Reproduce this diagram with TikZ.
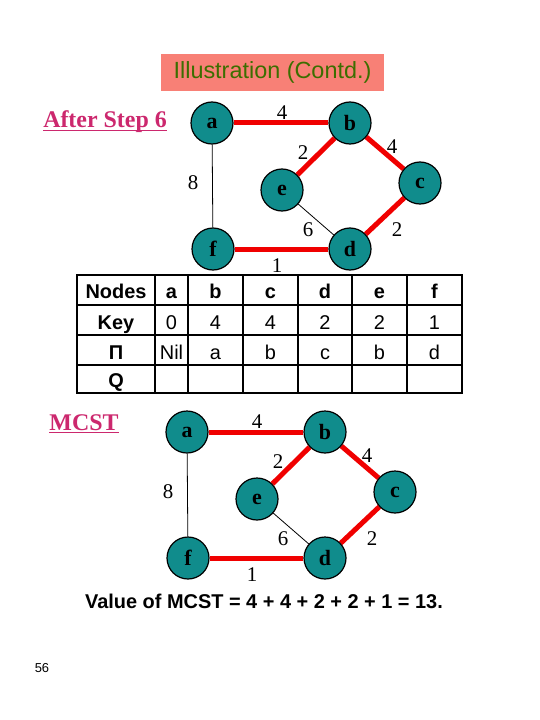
\documentclass[tikz,border=0pt]{standalone}
\usepackage{fontspec}
\setmainfont{Liberation Serif}
\setsansfont{Liberation Sans}
\usetikzlibrary{backgrounds}
\definecolor{nodeteal}{RGB}{16,140,140}
\definecolor{titlebg}{RGB}{248,128,118}
\definecolor{titlegreen}{RGB}{60,110,0}
\definecolor{steppink}{RGB}{204,40,110}
\definecolor{edgered}{RGB}{240,0,0}
\tikzset{
  vertex/.style={circle, draw=black, line width=1.2bp, fill=nodeteal,
    minimum size=42bp, inner sep=0pt, font=\fontsize{22}{22}\selectfont\bfseries},
  tree edge/.style={edgered, line width=5bp},
  plain edge/.style={black, line width=0.8bp},
  weight/.style={font=\fontsize{21}{21}\selectfont, inner sep=0pt},
  cell/.style={font=\sffamily\fontsize{20}{20}\selectfont, inner sep=0pt, anchor=base},
  head/.style={cell, font=\sffamily\bfseries\fontsize{20}{20}\selectfont},
  steplabel/.style={steppink, font=\bfseries\fontsize{24}{24}\selectfont, inner sep=0pt, anchor=base},
}
\begin{document}
\begin{tikzpicture}[x=1bp, y=-1bp]
  \useasboundingbox (0,0) rectangle (540,720);
  % Title
  \node[fill=titlebg, minimum width=223bp, minimum height=37bp, inner sep=0pt,
    text=titlegreen, font=\sffamily\fontsize{23.5}{23.5}\selectfont] (title) at (272.5,72.5) {Illustration (Contd.)};
  % Step labels
  \node[steplabel] (step6) at (105,128) {After Step 6};
  \draw[steppink, line width=1.5bp] ([yshift=-2.5bp]step6.base west) -- ([yshift=-2.5bp]step6.base east);
  \node[steplabel] (mcst) at (84,430) {MCST};
  \draw[steppink, line width=1.5bp] ([yshift=-2.5bp]mcst.base west) -- ([yshift=-2.5bp]mcst.base east);
  % The two graphs
  \foreach \dx/\dy/\g in {0/0/top, -25/309/mst} {
    \begin{scope}[shift={(\dx,\dy)}, name prefix=\g-]
      % Vertices
      \node[vertex] (a) at (212,123) {a};
      \node[vertex] (b) at (350,123) {b};
      \node[vertex] (c) at (420,183) {c};
      \node[vertex] (e) at (282,190) {e};
      \node[vertex] (f) at (213,249) {f};
      \node[vertex] (d) at (350,249) {d};
      \begin{scope}[on background layer]
        % Tree edges
        \draw[tree edge] (a) -- (b);
        \draw[tree edge] (b) -- (e);
        \draw[tree edge] (b) -- (c);
        \draw[tree edge] (c) -- (d);
        \draw[tree edge] (f) -- (d);
        % Other edges
        \draw[plain edge] (a) -- (f);
        \draw[plain edge] (e) -- (d);
      \end{scope}
      % Weights
      \node[weight] (wab) at (282,113) {4};
      \node[weight] (wbe) at (303,153) {2};
      \node[weight] (wbc) at (392,147) {4};
      \node[weight] (waf) at (193,183) {8};
      \node[weight] (wed) at (308,230) {6};
      \node[weight] (wcd) at (397,230) {2};
      \node[weight] (wfd) at (277,266) {1};
    \end{scope}
  }
  % Table grid
  \draw[line width=2bp] (77,275) rectangle (462,393);
  \foreach \x in {155,188,243,298,352,407}
    \draw[line width=1.5bp] (\x,275) -- (\x,393);
  \foreach \y in {305,335,365}
    \draw[line width=1.5bp] (77,\y) -- (462,\y);
  % Table entries
  \foreach \x/\t [count=\i] in {116/Nodes,171.5/a,215.5/b,270.5/c,325/d,379.5/e,434.5/f}
    \node[head] (nodes\i) at (\x,298) {\t};
  \node[head] (key0) at (116,329) {Key};
  \foreach \x/\t [count=\i] in {171.5/0,215.5/4,270.5/4,325/2,379.5/2,434.5/1}
    \node[cell] (key\i) at (\x,329) {\t};
  \node[head] (pi0) at (116,359) {Π};
  \foreach \x/\t [count=\i] in {171.5/Nil,215.5/a,270.5/b,325/c,379.5/b,434.5/d}
    \node[cell] (pi\i) at (\x,359) {\t};
  \node[head] (q0) at (116,387) {Q};
  % Total
  \node[font=\sffamily\bfseries\fontsize{20}{20}\selectfont, anchor=base] (value) at (264,608)
    {Value of MCST = 4 + 4 + 2 + 2 + 1 = 13.};
  % Page number
  \node[font=\sffamily\fontsize{13}{13}\selectfont] (page) at (42,668) {56};
\end{tikzpicture}
\end{document}
